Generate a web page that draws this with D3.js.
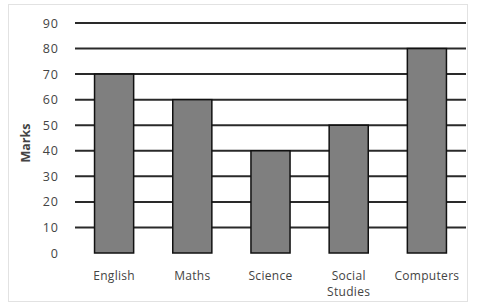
<!DOCTYPE html>
<html>
<head>
<meta charset="utf-8">
<script src="https://cdn.jsdelivr.net/npm/d3@7"></script>
<style>
  body { margin: 0; background: #fff; }
  svg text { font-family: "Open Sans", "Liberation Sans", sans-serif; fill: #444; }
</style>
</head>
<body>
<script>
var subjects = ["English", "Maths", "Science", "Social Studies", "Computers"];
var marks = [70, 60, 40, 50, 80];
var yTicks = [0, 10, 20, 30, 40, 50, 60, 70, 80, 90];

var margin = { top: 23, right: 32, bottom: 54, left: 75 },
  width = 498 - margin.left - margin.right,
  height = 307 - margin.top - margin.bottom;

var svg = d3.select("body").append("svg")
  .attr("width", 498)
  .attr("height", 307);

// faint outer frame
svg.append("rect")
  .attr("x", 8.5).attr("y", 4.5)
  .attr("width", 459).attr("height", 297)
  .attr("fill", "none")
  .attr("stroke", "#e2e2e2");

var g = svg.append("g")
  .attr("transform", "translate(" + margin.left + "," + margin.top + ")");

var x = d3.scaleBand().domain(subjects).range([0, width])
  .paddingInner(0.5).paddingOuter(0.25);
var y = d3.scaleLinear().domain([0, 90]).range([height, 0]);

// gridlines
g.selectAll(".grid")
  .data(yTicks.filter(function(d) { return d > 0; }))
  .enter().append("line")
  .attr("x1", 0).attr("x2", width)
  .attr("y1", function(d) { return y(d); })
  .attr("y2", function(d) { return y(d); })
  .attr("stroke", "#2a2a2a")
  .attr("stroke-width", 2);

// y labels
var yAxis = d3.axisLeft(y).tickValues(yTicks).tickSize(0).tickPadding(16);
g.append("g").call(yAxis)
  .call(function(s) { s.select(".domain").remove(); })
  .selectAll("text")
  .style("font-size", "12.5px")
  .style("letter-spacing", "1px")
  .attr("fill", "#444");

// bars
g.selectAll(".bar")
  .data(marks)
  .enter().append("rect")
  .attr("x", function(d, i) { return x(subjects[i]); })
  .attr("y", function(d) { return y(d); })
  .attr("width", x.bandwidth())
  .attr("height", function(d) { return height - y(d); })
  .attr("fill", "#7f7f7f")
  .attr("stroke", "#111")
  .attr("stroke-width", 1.5);

// x labels, one text per line (wraps "Social Studies")
var lines = [];
subjects.forEach(function(d) {
  d.split(" ").forEach(function(w, i) { lines.push({ cat: d, word: w, row: i }); });
});
g.selectAll(".xl")
  .data(lines)
  .enter().append("text")
  .attr("text-anchor", "middle")
  .attr("x", function(d) { return x(d.cat) + x.bandwidth() / 2; })
  .attr("y", function(d) { return height + 27 + d.row * 16; })
  .style("font-size", "12px")
  .style("letter-spacing", "0.3px")
  .text(function(d) { return d.word; });

// y title
svg.append("text")
  .attr("transform", "translate(30,143) rotate(-90)")
  .attr("text-anchor", "middle")
  .style("font-size", "12.5px")
  .style("font-weight", "bold")
  .attr("fill", "#222")
  .text("Marks");
</script>
</body>
</html>
